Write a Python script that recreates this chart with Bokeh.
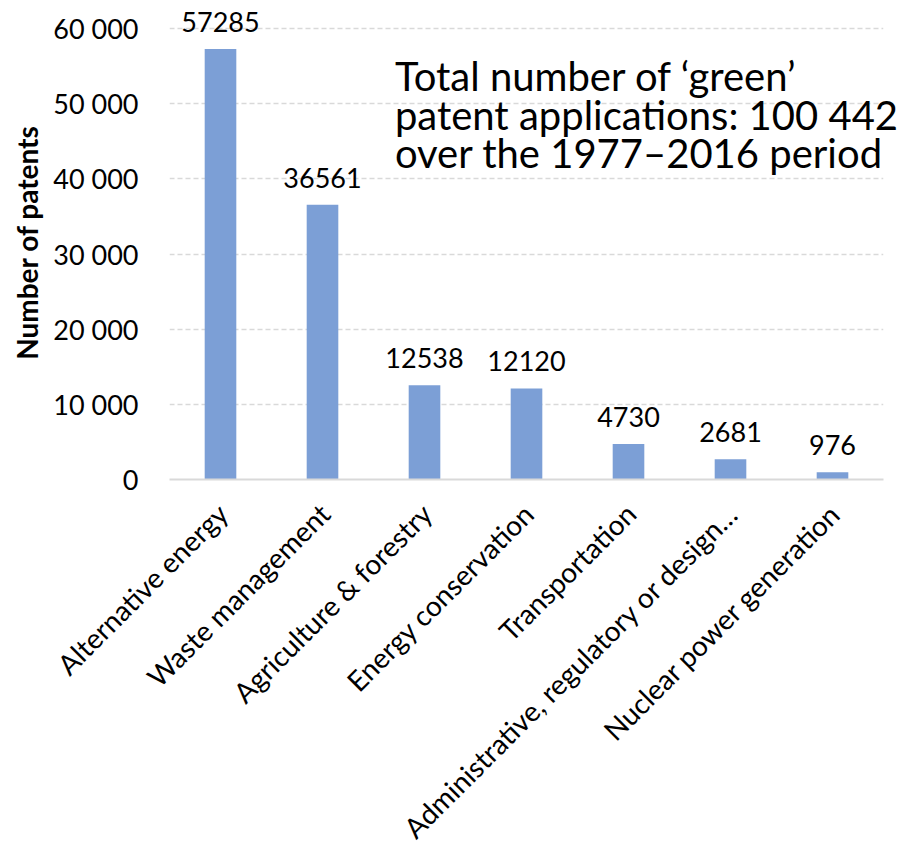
from bokeh.plotting import figure
from bokeh.models import Range1d, FactorRange, FixedTicker, ColumnDataSource
from bokeh.core.properties import value
from bokeh.embed import file_html
from bokeh.resources import INLINE
import math

# Green patent applications by technology field, 1977-2016
categories = [
    "Alternative energy",
    "Waste management",
    "Agriculture & forestry",
    "Energy conservation",
    "Transportation",
    "Administrative, regulatory or design\u2026",
    "Nuclear power generation",
]
patents = [57285, 36561, 12538, 12120, 4730, 2681, 976]

y_ticks = [0, 10000, 20000, 30000, 40000, 50000, 60000]
y_tick_labels = ["0", "10 000", "20 000", "30 000", "40 000", "50 000", "60 000"]

note_lines = [
    "Total number of \u2018green\u2019",
    "patent applications: 100 442",
    "over the 1977\u20132016 period",
]
note_baselines = [52150, 46830, 41775]
note_x = 2.21

FONT = "Lato"
BAR = "#7c9fd6"
GRID = "#d9d9d9"

p = figure(
    width=920, height=850,
    x_range=FactorRange(*categories, range_padding=0),
    y_range=Range1d(0, 63060),
    output_backend="svg", toolbar_location=None,
    min_border_left=169, min_border_right=37,
    min_border_top=5, min_border_bottom=371,
)
p.outline_line_color = None
p.background_fill_color = "white"
p.border_fill_color = "white"

src = ColumnDataSource(dict(
    cat=categories,
    n=patents,
    lbl=[str(v) for v in patents],
    base=[0] * len(categories),
))

p.vbar(x="cat", top="n", width=0.31, source=src,
       fill_color=BAR, line_color=None)

# value labels above the bars
p.text(x="cat", y="n", text="lbl", source=src,
       text_font=value(FONT), text_font_size="27px", text_color="black",
       text_align="center", text_baseline="alphabetic", y_offset=-27)

# value axis
p.yaxis.ticker = FixedTicker(ticks=y_ticks)
p.yaxis.major_label_overrides = {t: s for t, s in zip(y_ticks, y_tick_labels)}
p.yaxis.axis_line_color = None
p.yaxis.major_tick_line_color = None
p.yaxis.minor_tick_line_color = None
p.yaxis.major_tick_out = 0
p.yaxis.major_tick_in = 0
p.yaxis.major_label_standoff = 31
p.yaxis.major_label_text_font = FONT
p.yaxis.major_label_text_font_size = "27px"
p.yaxis.major_label_text_color = "black"
p.yaxis.axis_label = "Number of patents"
p.yaxis.axis_label_text_font = FONT
p.yaxis.axis_label_text_font_style = "bold"
p.yaxis.axis_label_text_font_size = "28px"
p.yaxis.axis_label_text_color = "black"
p.yaxis.axis_label_standoff = 6

p.ygrid.ticker = FixedTicker(ticks=y_ticks[1:])
p.ygrid.grid_line_color = GRID
p.ygrid.grid_line_dash = "5 3"
p.ygrid.grid_line_width = 1.5
p.xgrid.grid_line_color = None

# category axis: the baseline is drawn as a rule, names as slanted text
p.xaxis.visible = False
base_rule = p.hspan(y=[0], line_color=GRID, line_width=2)
base_rule.level = "overlay"

cat_labels = p.text(x="cat", y="base", text="cat", source=src,
                    text_font=value(FONT), text_font_size="28px",
                    text_color="black", angle=math.pi / 4,
                    text_align="right", text_baseline="top",
                    x_offset=-10, y_offset=17)
cat_labels.level = "overlay"

# summary note
note = p.text(x=[note_x] * 3, y=note_baselines, text=note_lines,
              text_font=value(FONT), text_font_size="40px",
              text_color="black", text_align="left",
              text_baseline="alphabetic", y_offset=-12)
note.level = "overlay"

open("out.html", "w").write(file_html(p, INLINE))
